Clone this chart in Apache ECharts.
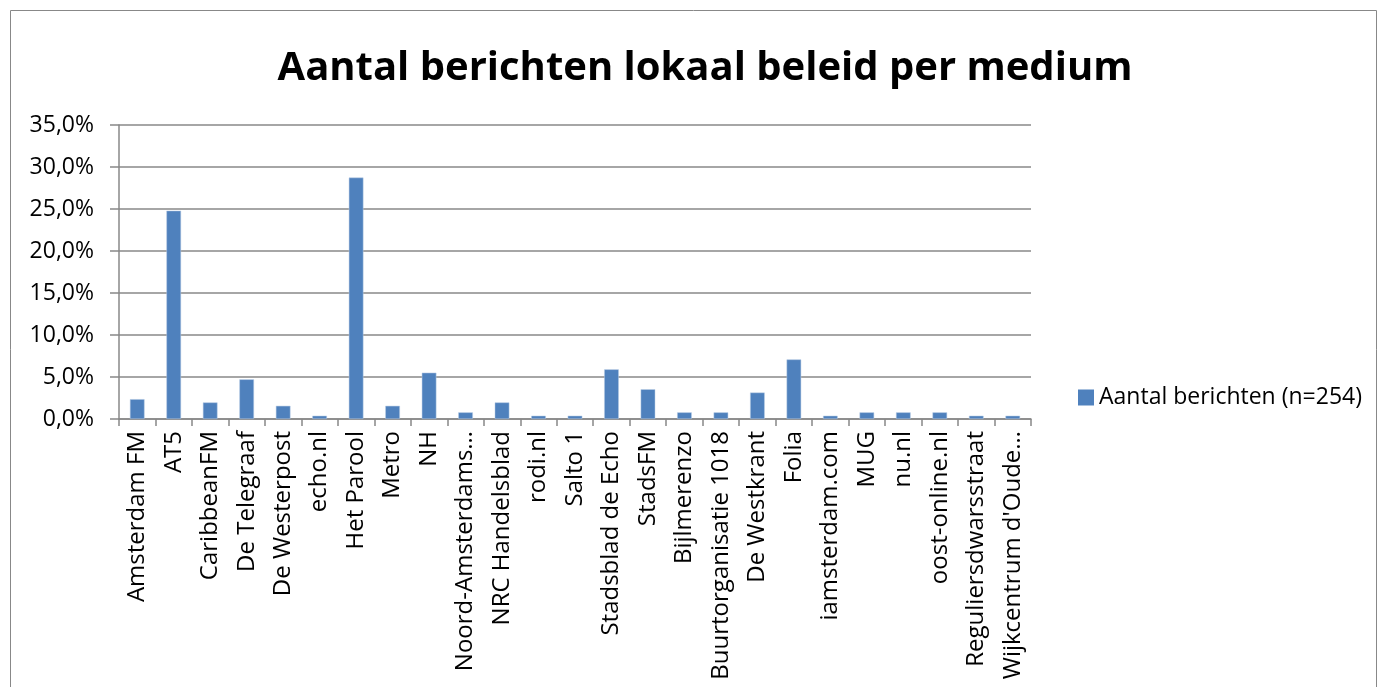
<!DOCTYPE html>
<html>
<head>
<meta charset="utf-8">
<script src="https://cdn.jsdelivr.net/npm/echarts@6/dist/echarts.min.js"></script>
<style>
  html, body { margin: 0; padding: 0; background: #fff; }
  #chart { width: 1381px; height: 687px; }
</style>
</head>
<body>
<div id="chart"></div>
<script>
// media en aandeel berichten (n=254)
var categories = ['Amsterdam FM', 'AT5', 'CaribbeanFM', 'De Telegraaf', 'De Westerpost', 'echo.nl',
  'Het Parool', 'Metro', 'NH', 'Noord-Amsterdams…', 'NRC Handelsblad', 'rodi.nl', 'Salto 1',
  'Stadsblad de Echo', 'StadsFM', 'Bijlmerenzo', 'Buurtorganisatie 1018', 'De Westkrant', 'Folia',
  'iamsterdam.com', 'MUG', 'nu.nl', 'oost-online.nl', 'Reguliersdwarsstraat', "Wijkcentrum d'Oude…"];
var percentages = [2.36, 24.80, 1.97, 4.72, 1.57, 0.39, 28.74, 1.57, 5.51, 0.79, 1.97, 0.39, 0.39,
  5.91, 3.54, 0.79, 0.79, 3.15, 7.09, 0.39, 0.79, 0.79, 0.79, 0.39, 0.39];
var seriesName = 'Aantal berichten (n=254)';

function echarts_1() {
  var myChart = echarts.init(document.getElementById('chart'));
  var font = "'Open Sans', 'Noto Sans', sans-serif";
  var option = {
    animation: false,
    textStyle: { fontFamily: font },
    title: {
      text: 'Aantal berichten lokaal beleid per medium',
      left: 700,
      top: 44,
      textAlign: 'center',
      textStyle: { fontSize: 40, fontWeight: 'bold', color: '#000', fontFamily: font }
    },
    graphic: [{
      type: 'rect',
      shape: { x: 10.5, y: 10.5, width: 1366, height: 690 },
      style: { fill: 'none', stroke: '#888', lineWidth: 1 },
      silent: true
    }],
    legend: {
      left: 1073,
      top: 381,
      itemWidth: 16,
      itemHeight: 16,
      itemGap: 5,
      icon: 'rect',
      data: [seriesName],
      itemStyle: { borderWidth: 0 },
      textStyle: { fontSize: 23, color: '#000', fontFamily: font, padding: [0, 0, 0, 0] }
    },
    grid: { left: 119, right: 350, top: 125, bottom: 268, containLabel: false, outerBoundsMode: 'none' },
    xAxis: {
      type: 'category',
      data: categories,
      axisLine: { lineStyle: { color: '#888', width: 1.5 } },
      axisTick: { show: true, alignWithLabel: false, length: 7, lineStyle: { color: '#888', width: 1.5 } },
      axisLabel: {
        interval: 0,
        rotate: 90,
        fontSize: 24,
        color: '#000',
        margin: 12,
        fontFamily: font
      }
    },
    yAxis: {
      type: 'value',
      min: 0,
      max: 35,
      interval: 5,
      axisLine: { show: true, lineStyle: { color: '#888', width: 1.5 } },
      axisTick: { show: true, length: 9, lineStyle: { color: '#888', width: 1.5 } },
      splitLine: { lineStyle: { color: '#888', width: 1.5 } },
      axisLabel: {
        fontSize: 23,
        color: '#000',
        margin: 25,
        fontFamily: font,
        formatter: function (v) { return v.toFixed(1).replace('.', ',') + '%'; }
      }
    },
    series: [{
      name: seriesName,
      type: 'bar',
      barWidth: '40%',
      itemStyle: { color: '#4f81bd', borderColor: '#b9cde5', borderWidth: 0.5 },
      data: percentages
    }]
  };
  myChart.clear();
  myChart.setOption(option);
  window.addEventListener("resize", function () {
    myChart.resize();
  });
}
echarts_1();
</script>
</body>
</html>
